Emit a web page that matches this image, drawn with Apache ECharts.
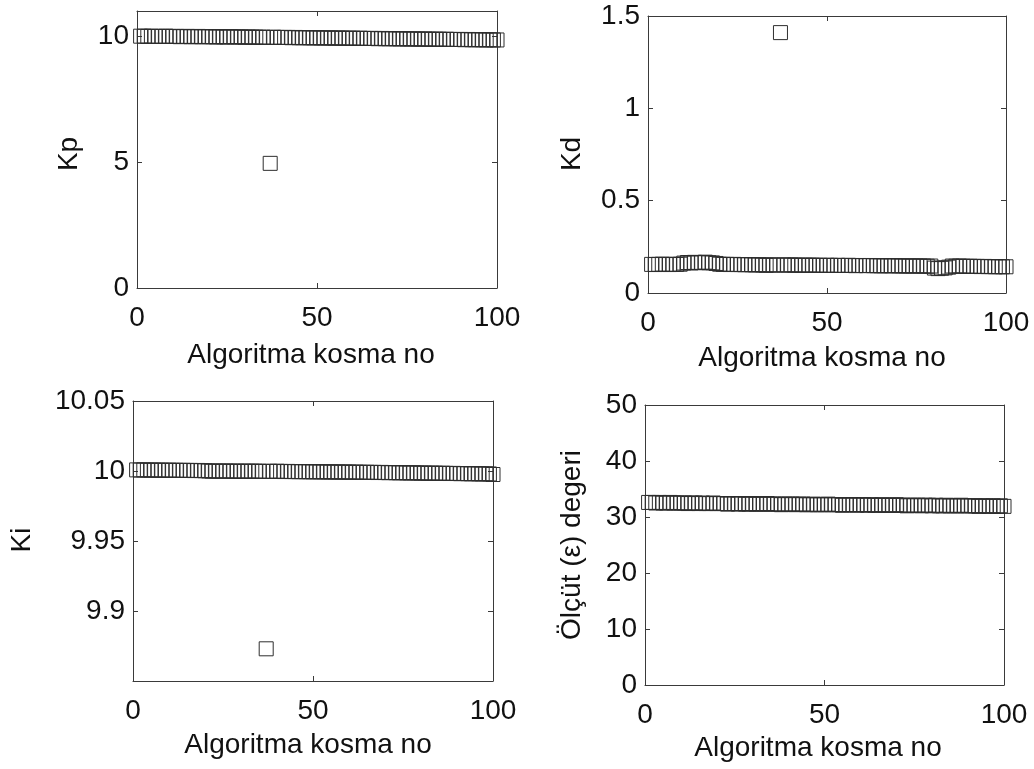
<!DOCTYPE html>
<html>
<head>
<meta charset="utf-8">
<script src="https://cdn.jsdelivr.net/npm/echarts@6/dist/echarts.min.js"></script>
<style>
  html, body { margin: 0; padding: 0; background: #fff; }
  #chart { width: 1034px; height: 769px; }
</style>
</head>
<body>
<div id="chart"></div>
<script>
// PID gains and criterion value found by each run of the algorithm (runs 1..100)
const kpValues = [
  10.00, 10.00, 9.99, 10.00, 9.99, 9.99, 9.99, 10.00, 9.99, 9.99,
  9.99, 9.98, 9.99, 9.99, 9.98, 9.98, 9.99, 9.98, 9.98, 9.98,
  9.98, 9.97, 9.98, 9.97, 9.97, 9.98, 9.97, 9.97, 9.97, 9.96,
  9.97, 9.96, 9.96, 9.96, 9.96, 9.95, 4.95, 9.96, 9.95, 9.95,
  9.95, 9.95, 9.94, 9.95, 9.94, 9.94, 9.94, 9.94, 9.93, 9.94,
  9.93, 9.93, 9.93, 9.93, 9.92, 9.93, 9.92, 9.92, 9.92, 9.92,
  9.91, 9.92, 9.91, 9.91, 9.91, 9.91, 9.90, 9.91, 9.90, 9.90,
  9.90, 9.90, 9.89, 9.90, 9.89, 9.89, 9.89, 9.89, 9.88, 9.89,
  9.88, 9.88, 9.88, 9.88, 9.87, 9.88, 9.87, 9.87, 9.87, 9.87,
  9.86, 9.87, 9.86, 9.86, 9.86, 9.86, 9.85, 9.86, 9.85, 9.85
];
const kdValues = [
  0.155, 0.154, 0.155, 0.156, 0.155, 0.154, 0.155, 0.155, 0.156, 0.162,
  0.165, 0.163, 0.166, 0.164, 0.165, 0.167, 0.164, 0.163, 0.160, 0.156,
  0.155, 0.155, 0.154, 0.155, 0.154, 0.154, 0.153, 0.154, 0.153, 0.152,
  0.153, 0.152, 0.150, 0.152, 0.151, 0.152, 1.410, 0.152, 0.151, 0.152,
  0.151, 0.151, 0.150, 0.151, 0.150, 0.151, 0.150, 0.150, 0.149, 0.150,
  0.150, 0.149, 0.150, 0.149, 0.149, 0.150, 0.149, 0.148, 0.149, 0.149,
  0.148, 0.149, 0.148, 0.148, 0.147, 0.148, 0.148, 0.147, 0.148, 0.147,
  0.147, 0.146, 0.147, 0.146, 0.147, 0.146, 0.146, 0.145, 0.146, 0.135,
  0.132, 0.134, 0.136, 0.140, 0.146, 0.145, 0.146, 0.145, 0.144, 0.145,
  0.144, 0.144, 0.143, 0.144, 0.143, 0.143, 0.142, 0.143, 0.142, 0.142
];
const kiValues = [
  10.0008, 10.0007, 10.0008, 10.0007, 10.0006, 10.0007, 10.0006, 10.0006, 10.0005, 10.0006,
  10.0005, 10.0005, 10.0004, 10.0005, 10.0004, 10.0004, 10.0003, 10.0004, 10.0003, 10.0002,
  10.0000, 9.9999, 10.0000, 9.9999, 9.9999, 10.0000, 9.9999, 9.9998, 9.9999, 9.9998,
  9.9999, 9.9998, 9.9998, 9.9999, 9.9998, 9.9997, 9.8730, 9.9998, 9.9997, 9.9998,
  9.9997, 9.9996, 9.9997, 9.9996, 9.9996, 9.9995, 9.9996, 9.9995, 9.9995, 9.9994,
  9.9995, 9.9994, 9.9994, 9.9993, 9.9994, 9.9993, 9.9993, 9.9992, 9.9993, 9.9992,
  9.9991, 9.9992, 9.9991, 9.9990, 9.9991, 9.9990, 9.9990, 9.9989, 9.9990, 9.9989,
  9.9988, 9.9989, 9.9988, 9.9987, 9.9988, 9.9987, 9.9986, 9.9987, 9.9986, 9.9985,
  9.9985, 9.9984, 9.9985, 9.9984, 9.9983, 9.9984, 9.9983, 9.9982, 9.9983, 9.9982,
  9.9981, 9.9982, 9.9981, 9.9980, 9.9981, 9.9980, 9.9979, 9.9980, 9.9979, 9.9975
];
const criterionValues = [
  32.6, 32.6, 32.5, 32.6, 32.5, 32.5, 32.6, 32.5, 32.5, 32.5,
  32.5, 32.4, 32.5, 32.5, 32.4, 32.5, 32.4, 32.4, 32.5, 32.4,
  32.4, 32.4, 32.3, 32.4, 32.4, 32.3, 32.4, 32.3, 32.3, 32.4,
  32.3, 32.3, 32.3, 32.4, 32.3, 32.3, 32.3, 32.2, 32.3, 32.3,
  32.3, 32.2, 32.3, 32.3, 32.2, 32.2, 32.3, 32.2, 32.2, 32.2,
  32.3, 32.2, 32.2, 32.2, 32.1, 32.2, 32.2, 32.2, 32.1, 32.2,
  32.2, 32.1, 32.2, 32.1, 32.1, 32.2, 32.1, 32.1, 32.1, 32.2,
  32.1, 32.1, 32.0, 32.1, 32.1, 32.1, 32.0, 32.1, 32.1, 32.0,
  32.1, 32.0, 32.0, 32.1, 32.0, 32.0, 32.0, 32.1, 32.0, 32.0,
  32.0, 32.0, 31.9, 32.0, 32.0, 31.9, 32.0, 31.9, 32.0, 31.9
];

// tick labels
const runTicks = [0, 50, 100];
const kpTicks = [0, 5, 10];
const kdTicks = [0, 0.5, 1, 1.5];
const kiTicks = [9.9, 9.95, 10, 10.05];
const criterionTicks = [0, 10, 20, 30, 40, 50];

// axis titles
const xTitle = 'Algoritma kosma no';
const yTitles = ['Kp', 'Kd', 'Ki', 'Ölçüt (ε) degeri'];

const FONT = '"Liberation Sans", Arial, sans-serif';
const FS = 28;
const INK = '#111';
const FRAME = '#3a3a3a';

function tickFormatter(list) {
  return function (v) {
    const hit = list.find(t => Math.abs(t - v) < 1e-7);
    return hit === undefined ? '' : String(hit);
  };
}

// panel boxes in pixels: left, top, width, height
const panels = [
  { box: [137, 11, 360, 277], values: kpValues, min: 0, max: 11, interval: 5, ticks: kpTicks },
  { box: [648, 16, 358, 277], values: kdValues, min: 0, max: 1.5, interval: 0.5, ticks: kdTicks },
  { box: [133, 401, 360, 280], values: kiValues, min: 9.85, max: 10.05, interval: 0.05, ticks: kiTicks },
  { box: [645, 405, 359, 280], values: criterionValues, min: 0, max: 50, interval: 10, ticks: criterionTicks }
];

const grid = [], xAxis = [], yAxis = [], series = [];
panels.forEach((p, i) => {
  const [l, t, w, h] = p.box;
  grid.push({ left: l, top: t, width: w, height: h, containLabel: false });
  const line = { show: true, onZero: false, lineStyle: { color: FRAME, width: 1 } };
  const tick = { show: true, inside: true, length: 5, lineStyle: { color: FRAME, width: 1 } };
  // bottom x axis with labels
  xAxis.push({
    type: 'value', gridIndex: i, position: 'bottom', min: 0, max: 100, interval: 50,
    axisLine: line, axisTick: tick, splitLine: { show: false },
    axisLabel: { show: true, margin: 16, color: INK, fontFamily: FONT, fontSize: FS, formatter: tickFormatter(runTicks) }
  });
  // top frame
  xAxis.push({
    type: 'value', gridIndex: i, position: 'top', min: 0, max: 100, interval: 50,
    axisLine: line, axisTick: tick, splitLine: { show: false }, axisLabel: { show: false }
  });
  yAxis.push({
    type: 'value', gridIndex: i, position: 'left', min: p.min, max: p.max, interval: p.interval,
    axisLine: line, axisTick: tick, splitLine: { show: false },
    axisLabel: { show: true, margin: 8, color: INK, fontFamily: FONT, fontSize: FS, formatter: tickFormatter(p.ticks) }
  });
  yAxis.push({
    type: 'value', gridIndex: i, position: 'right', min: p.min, max: p.max, interval: p.interval,
    axisLine: line, axisTick: tick, splitLine: { show: false }, axisLabel: { show: false }
  });
  series.push({
    type: 'scatter',
    xAxisIndex: i * 2,
    yAxisIndex: i * 2,
    symbol: 'rect',
    symbolSize: 14,
    clip: false,
    silent: true,
    itemStyle: { color: 'rgba(0,0,0,0)', borderColor: '#2e2e2e', borderWidth: 1, opacity: 1 },
    data: p.values.map((v, k) => [k + 1, v])
  });
});

// axis titles
const titleStyle = (text) => ({ text, font: FS + 'px ' + FONT, fill: INK, textAlign: 'center', textVerticalAlign: 'middle', align: 'center', verticalAlign: 'middle' });
const xTitlePos = [[311, 355], [822, 358], [308, 745], [818, 748]];
const yTitlePos = [[69, 154], [572, 154], [22, 540], [572, 545]];
const graphic = [];
xTitlePos.forEach(([x, y]) => graphic.push({ type: 'text', x, y, style: titleStyle(xTitle), silent: true }));
yTitlePos.forEach(([x, y], i) => graphic.push({ type: 'text', x, y, rotation: Math.PI / 2, style: titleStyle(yTitles[i]), silent: true }));

const chart = echarts.init(document.getElementById('chart'), null, { renderer: 'canvas' });
chart.setOption({
  backgroundColor: '#ffffff',
  animation: false,
  textStyle: { fontFamily: FONT },
  grid, xAxis, yAxis, series, graphic
});
</script>
</body>
</html>
